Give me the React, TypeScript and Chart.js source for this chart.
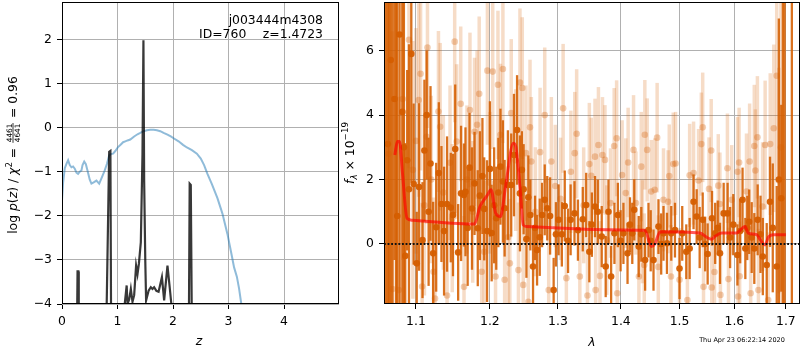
import React, { useEffect, useRef } from 'react';
import { Chart, registerables } from 'chart.js';

Chart.register(...registerables);

const FONT = "'DejaVu Sans', sans-serif";
const FS = 12.4;

// ---------- left panel: redshift fit ----------
const leftXTicks = [0, 1, 2, 3, 4];
const leftYTicks = [-4, -3, -2, -1, 0, 1, 2];

const chiZ = [0, 0.02, 0.05, 0.08, 0.11, 0.14, 0.17, 0.2, 0.23, 0.26, 0.29, 0.32, 0.35, 0.37, 0.4, 0.43, 0.46, 0.5, 0.53, 0.57, 0.62, 0.67, 0.72, 0.77, 0.81, 0.85, 0.88, 0.92, 0.96, 1.01, 1.06, 1.1, 1.14, 1.18, 1.23, 1.3, 1.36, 1.41, 1.47, 1.53, 1.59, 1.65, 1.71, 1.77, 1.83, 1.9, 1.96, 2.01, 2.1, 2.18, 2.25, 2.34, 2.43, 2.5, 2.56, 2.62, 2.7, 2.8, 2.89, 2.98, 3.05, 3.1, 3.15, 3.19, 3.23, 3.28];
const chiVal = [-1.65, -1.25, -0.92, -0.82, -0.74, -0.85, -0.9, -0.88, -0.93, -1.02, -1.05, -1.0, -0.97, -0.85, -0.77, -0.83, -0.98, -1.18, -1.27, -1.24, -1.2, -1.27, -1.12, -0.97, -0.82, -0.63, -0.6, -0.59, -0.53, -0.44, -0.38, -0.33, -0.31, -0.29, -0.27, -0.2, -0.15, -0.12, -0.08, -0.06, -0.05, -0.05, -0.06, -0.08, -0.12, -0.16, -0.2, -0.24, -0.31, -0.39, -0.45, -0.51, -0.59, -0.7, -0.85, -1.05, -1.28, -1.6, -1.95, -2.41, -2.85, -3.17, -3.38, -3.65, -4.0, -4.4];

const pzZ = [0, 0.27, 0.28, 0.295, 0.302, 0.8, 0.85, 0.872, 0.885, 1.1, 1.13, 1.165, 1.18, 1.21, 1.24, 1.27, 1.3, 1.335, 1.36, 1.385, 1.42, 1.45, 1.467, 1.48, 1.5, 1.515, 1.56, 1.6, 1.63, 1.66, 1.7, 1.74, 1.8, 1.84, 1.9, 1.94, 1.97, 2.01, 2.03, 2.285, 2.3, 2.32, 2.34, 4.99];
const pzLogP = [-4.6, -4.6, -3.26, -3.26, -4.6, -4.4, -0.55, -0.53, -4.6, -4.6, -4.0, -3.58, -4.0, -3.9, -3.66, -3.95, -3.8, -3.13, -3.32, -3.09, -2.6, -0.6, 1.98, -1.2, -3.0, -3.92, -3.7, -3.62, -3.66, -3.62, -3.7, -3.72, -3.39, -3.92, -3.13, -3.62, -4.0, -4.0, -4.6, -4.6, -1.27, -1.3, -4.6, -4.6];

// ---------- right panel: spectrum ----------
const rightXTicks = [1.1, 1.2, 1.3, 1.4, 1.5, 1.6, 1.7];
const rightYTicks = [0, 2, 4, 6];

const darkLam = [
  1.062, 1.0642, 1.066, 1.0678, 1.07, 1.0725, 1.0745, 1.076, 1.079, 1.0825,
  1.0845, 1.0862, 1.0887, 1.091, 1.094, 1.097, 1.101, 1.104, 1.1085, 1.111,
  1.114, 1.1165, 1.119, 1.1225, 1.1265, 1.13, 1.1335, 1.137, 1.141, 1.146,
  1.149, 1.152, 1.156, 1.16, 1.1639, 1.166, 1.169, 1.1716, 1.175, 1.1785,
  1.183, 1.186, 1.1895, 1.192, 1.196, 1.2, 1.2025, 1.206, 1.209, 1.212,
  1.215, 1.2185, 1.221, 1.2257, 1.2305, 1.2345, 1.239, 1.2432, 1.246, 1.2486,
  1.2527, 1.2555, 1.2585, 1.2625, 1.2655, 1.2685, 1.2725, 1.276, 1.28, 1.2838,
  1.2881, 1.2935, 1.297, 1.301, 1.306, 1.3105, 1.3156, 1.3196, 1.3256, 1.331,
  1.3386, 1.344, 1.349, 1.353, 1.358, 1.3625, 1.3688, 1.3752, 1.3797, 1.384,
  1.3894, 1.395, 1.3995, 1.4042, 1.411, 1.415, 1.4189, 1.4222, 1.4297, 1.434,
  1.4405, 1.4462, 1.45, 1.4548, 1.4633, 1.468, 1.472, 1.478, 1.4855, 1.492,
  1.5, 1.5048, 1.512, 1.518, 1.525, 1.5306, 1.536, 1.5415, 1.546, 1.5505,
  1.5585, 1.5643, 1.569, 1.5732, 1.58, 1.5873, 1.592, 1.598, 1.6058, 1.611,
  1.6155, 1.6208, 1.6245, 1.6282, 1.633, 1.638, 1.6445, 1.65, 1.6545, 1.6621,
  1.6686, 1.674, 1.6818, 1.686, 1.6908, 1.694, 1.6975, 1.712,
];
const darkFlux = [
  8.8, 3.1, -2.5, 5.71, 9.0, 4.5, 8.0, 0.87, 6.5, 4.1,
  3.0, -0.37, 2.6, 1.7, 5.9, 1.86, -0.6, 1.77, 0.12, 2.9,
  4.0, 1.0, 2.5, -0.29, 0.52, 2.2, 1.24, 0.4, 1.24, 1.13,
  0.9, 2.95, -0.26, 1.57, 1.52, 1.62, 0.5, 2.37, 1.1, 1.88,
  0.49, 1.5, 2.11, 1.09, 0.4, 2.33, 0.34, 1.2, 0.8, 1.6,
  2.4, 1.94, 1.11, 1.83, 1.83, 2.76, 3.54, 1.57, 2.3, 1.7,
  0.15, 1.45, 0.9, -0.7, 0.5, -0.19, 0.21, 0.9, 1.37, 1.11,
  0.87, -1.43, 0.3, 0.75, 0.3, 1.18, 0.1, 0.75, 0.95, 0.43,
  0.77, 1.21, -0.24, 0.6, 1.16, 1.0, 0.23, -0.7, 1.0, -1.01,
  0.33, 0.9, 0.1, 0.33, -0.29, 0.6, 0.33, 1.06, -0.08, 0.3,
  -0.5, 0.43, 0.1, -0.5, 0.54, 0.0, 0.33, 0.02, 0.33, 0.43,
  -0.76, 0.33, -0.24, -0.14, 1.31, 0.85, 0.2, 0.75, 0.0, -0.31,
  0.8, 0.33, 0.5, -0.29, 0.95, 0.95, 0.2, 0.6, -0.34, 0.4,
  1.37, -0.14, 0.5, 0.69, 0.2, -0.14, 0.75, 0.3, -0.39, -0.65,
  1.31, 0.5, -0.7, 2.0, 1.42, 8.5, -2.5, 9.0,
];
const darkErr = [
  12, 12, 12, 12, 12, 5, 10, 12, 9, 12,
  6, 3.5, 2.8, 4.5, 4, 2.5, 1.6, 2.6, 1.8, 2.2,
  2.0, 2.3, 2.4, 1.6, 2.0, 2.2, 1.8, 2.0, 2.1, 1.7,
  1.9, 2.0, 1.5, 2.1, 1.6, 2.0, 1.8, 1.7, 1.9, 1.6,
  1.8, 2.0, 1.8, 1.6, 2.2, 2.1, 1.5, 1.8, 1.6, 1.7,
  1.8, 1.9, 1.5, 1.7, 1.6, 1.9, 1.7, 1.8, 1.2, 1.4,
  1.2, 1.3, 1.1, 1.2, 1.0, 1.1, 1.2, 1.0, 1.1, 1.0,
  1.2, 1.0, 1.0, 1.1, 1.0, 1.1, 1.0, 1.1, 1.0, 0.95,
  1.0, 1.0, 0.95, 1.0, 0.95, 1.0, 0.95, 0.95, 1.0, 0.95,
  0.95, 1.0, 0.95, 0.95, 0.95, 0.85, 0.95, 0.95, 0.95, 0.85,
  0.95, 0.85, 0.95, 0.95, 0.85, 0.95, 0.85, 0.95, 0.85, 0.85,
  0.95, 0.85, 0.85, 0.95, 0.85, 0.85, 0.95, 0.85, 0.85, 0.95,
  0.85, 0.95, 0.85, 0.95, 0.95, 0.95, 0.95, 0.95, 0.95, 1.0,
  1.0, 0.95, 1.0, 1.0, 1.1, 1.1, 1.1, 1.2, 1.2, 1.3,
  1.4, 2.0, 2.5, 5, 2.9, 12, 12, 12,
];

const lightLam = [
  1.065, 1.07, 1.078, 1.083, 1.091, 1.096, 1.1, 1.1035, 1.106, 1.108,
  1.111, 1.114, 1.115, 1.12, 1.123, 1.125, 1.1295, 1.1318, 1.136, 1.141,
  1.145, 1.148, 1.1513, 1.154, 1.1595, 1.164, 1.168, 1.1722, 1.176, 1.1785,
  1.182, 1.185, 1.1885, 1.192, 1.1965, 1.2, 1.204, 1.208, 1.2114, 1.215,
  1.2185, 1.221, 1.226, 1.2285, 1.2305, 1.237, 1.241, 1.2432, 1.2466, 1.248,
  1.252, 1.2555, 1.258, 1.26, 1.266, 1.273, 1.28, 1.286, 1.29, 1.296,
  1.304, 1.308, 1.313, 1.32, 1.326, 1.329, 1.334, 1.34, 1.346, 1.349,
  1.352, 1.358, 1.359, 1.3635, 1.366, 1.37, 1.374, 1.377, 1.383, 1.389,
  1.393, 1.394, 1.402, 1.408, 1.412, 1.421, 1.425, 1.43, 1.434, 1.436,
  1.439, 1.44, 1.444, 1.451, 1.457, 1.461, 1.463, 1.472, 1.48, 1.482,
  1.485, 1.489, 1.493, 1.5, 1.514, 1.518, 1.525, 1.534, 1.539, 1.5415,
  1.543, 1.553, 1.557, 1.558, 1.563, 1.57, 1.573, 1.574, 1.587, 1.589,
  1.595, 1.606, 1.607, 1.609, 1.61, 1.623, 1.629, 1.631, 1.638, 1.64,
  1.644, 1.646, 1.654, 1.659, 1.665, 1.669, 1.676, 1.6818, 1.686, 1.69,
];
const lightFlux = [
  2.8, -1.4, -1.43, 4.5, 6.34, 2.3, 3.2, 4.47, 5.28, -1.32,
  1.2, 3.33, 6.1, 2.0, -0.86, -1.69, 4.11, 3.64, 1.6, -1.6,
  2.52, 0.8, 6.28, 3.18, 4.35, -1.33, 2.0, 4.16, 1.0, 3.48,
  3.7, 4.66, -0.86, -0.24, 5.38, 1.9, 5.35, -1.01, 4.94, 3.39,
  5.43, -1.11, 0.21, -0.6, 4.06, 2.6, -0.81, 5.01, 4.84, -1.27,
  2.82, -1.79, 3.62, 2.56, 1.0, 2.85, 4.0, -1.43, 2.56, 1.8,
  1.4, 4.21, -1.06, 2.24, 2.82, 3.42, -1.01, 1.2, -1.6, 2.48,
  2.12, 2.71, -1.43, 3.07, -0.99, 2.76, 2.61, 0.12, 1.27, 3.04,
  3.28, -1.53, 2.14, 1.58, 2.53, 2.92, 1.27, -1.01, 2.4, 0.38,
  -0.65, 3.39, 2.92, 1.63, 1.68, 3.3, -0.71, 1.37, 1.31, 2.11,
  -1.01, 2.48, 2.5, -1.11, -1.74, 2.13, 2.2, 1.97, 3.1, 3.62,
  -1.33, 1.71, 2.9, -1.35, -0.87, 1.81, 1.24, -1.58, 2.35, -1.09,
  1.37, 2.24, -1.63, 2.53, -1.0, 1.63, 2.56, -1.53, 3.04, 2.28,
  3.31, -1.43, 1.16, 3.07, -1.74, 3.1, 3.59, 5.22, 1.97, 3.0,
];
const lightErr = [
  12, 8, 6, 5, 4, 4, 3.5, 3, 3, 2.6,
  2.8, 2.7, 2.5, 2.6, 2.3, 2.4, 2.5, 2.6, 2.4, 2.3,
  2.4, 2.3, 2.5, 2.4, 2.4, 2.2, 2.3, 2.4, 2.2, 2.3,
  2.3, 2.4, 2.1, 2.2, 2.3, 2.2, 2.4, 2.2, 2.3, 2.2,
  2.3, 2.1, 2.2, 2.0, 2.3, 2.2, 2.1, 2.3, 2.2, 2.0,
  2.1, 2.0, 2.1, 2.0, 2.0, 2.0, 2.1, 1.9, 2.0, 1.9,
  1.9, 2.0, 1.9, 1.9, 1.9, 2.0, 1.8, 1.8, 1.8, 1.9,
  1.8, 1.8, 1.8, 1.8, 1.7, 1.8, 1.7, 1.7, 1.7, 1.8,
  1.8, 1.7, 1.7, 1.7, 1.7, 1.7, 1.6, 1.6, 1.7, 1.6,
  1.6, 1.7, 1.6, 1.6, 1.6, 1.7, 1.6, 1.6, 1.6, 1.6,
  1.6, 1.6, 1.6, 1.6, 1.6, 1.6, 1.6, 1.6, 1.6, 1.7,
  1.6, 1.6, 1.6, 1.6, 1.6, 1.6, 1.6, 1.6, 1.7, 1.6,
  1.7, 1.7, 1.7, 1.7, 1.7, 1.8, 1.8, 1.8, 1.9, 1.9,
  1.9, 1.9, 2.0, 2.0, 2.1, 2.2, 2.6, 3.2, 3.5, 6,
];

const modelLam = [1.073, 1.0762, 1.079, 1.0827, 1.0885, 1.0949, 1.1784, 1.186, 1.196, 1.2016, 1.2083, 1.215, 1.2223, 1.2336, 1.237, 1.2432, 1.2481, 1.253, 1.4319, 1.44, 1.4514, 1.457, 1.4662, 1.5366, 1.5487, 1.5578, 1.5638, 1.5764, 1.6039, 1.6202, 1.6263, 1.6426, 1.65, 1.6589, 1.6654, 1.6753, 1.7];
const modelFlux = [2.76, 3.18, 3.18, 2.19, 0.8, 0.74, 0.62, 1.16, 1.5, 1.68, 0.95, 0.85, 1.78, 3.13, 3.03, 1.78, 0.59, 0.54, 0.43, 0.43, -0.08, 0.0, 0.38, 0.34, 0.21, 0.15, 0.23, 0.34, 0.34, 0.54, 0.34, 0.29, 0.12, -0.03, 0.21, 0.29, 0.29];

const X_MIN_R = 1.0594;
const X_MAX_R = 1.7285;

// ---------- helpers ----------
type Seg = { t?: string; size: number; italic?: boolean; dy?: number; num?: string; den?: string };

const fontOf = (s: Seg) => `${s.italic ? 'italic ' : ''}${s.size}px ${FONT}`;

function drawRotated(ctx: CanvasRenderingContext2D, segs: Seg[], bx: number, cy: number) {
  ctx.save();
  const widths = segs.map((s) => {
    ctx.font = fontOf(s);
    if (s.num !== undefined) {
      return Math.max(ctx.measureText(s.num).width, ctx.measureText(s.den || '').width) + 3;
    }
    return ctx.measureText(s.t || '').width;
  });
  const total = widths.reduce((a, b) => a + b, 0);
  ctx.translate(bx, cy);
  ctx.rotate(-Math.PI / 2);
  ctx.fillStyle = '#000';
  ctx.textBaseline = 'alphabetic';
  let x = -total / 2;
  segs.forEach((s, i) => {
    ctx.font = fontOf(s);
    if (s.num !== undefined) {
      const w = widths[i];
      ctx.textAlign = 'center';
      ctx.fillText(s.num, x + w / 2, -4.9);
      ctx.fillText(s.den || '', x + w / 2, 3.0);
      ctx.fillRect(x + 1, -3.9, w - 2, 0.8);
      ctx.textAlign = 'left';
    } else {
      ctx.textAlign = 'left';
      ctx.fillText(s.t || '', x, s.dy || 0);
    }
    x += widths[i];
  });
  ctx.restore();
}

const errorBarPlugin = {
  id: 'errbars',
  beforeDatasetDraw(chart: any, args: any) {
    const ds: any = chart.data.datasets[args.index];
    if (!ds.errs) return;
    const { ctx, chartArea: a } = chart;
    const xs = chart.scales.x;
    const ys = chart.scales.y;
    ctx.save();
    ctx.beginPath();
    ctx.rect(a.left, a.top, a.right - a.left, a.bottom - a.top);
    ctx.clip();
    ctx.strokeStyle = ds.errColor;
    ctx.lineWidth = ds.errWidth;
    ctx.lineCap = 'butt';
    ds.data.forEach((p: any, i: number) => {
      const e = ds.errs[i];
      const px = xs.getPixelForValue(p.x);
      ctx.beginPath();
      ctx.moveTo(px, ys.getPixelForValue(p.y - e));
      ctx.lineTo(px, ys.getPixelForValue(p.y + e));
      ctx.stroke();
    });
    ctx.restore();
  },
};

function framePlugin(drawText: (ctx: CanvasRenderingContext2D, chart: any) => void) {
  return {
    id: 'frame',
    afterDraw(chart: any) {
      const { ctx, chartArea: a } = chart;
      ctx.save();
      ctx.strokeStyle = '#000';
      ctx.lineWidth = 1;
      const x0 = Math.round(a.left) + 0.5;
      const y0 = Math.round(a.top) + 0.5;
      const x1 = Math.round(a.right) - 0.5;
      const y1 = Math.round(a.bottom) - 0.5;
      ctx.strokeRect(x0, y0, x1 - x0, y1 - y0);
      ctx.restore();
      drawText(ctx, chart);
    },
  };
}

const gridOpts = { color: '#b0b0b0', lineWidth: 1, tickColor: '#000', tickLength: 5, tickWidth: 1 };
const tickFont = { family: FONT, size: FS };
const minus = (v: any) => String(v).replace('-', '\u2212');

const zeroPad = (s: any) => {
  s.paddingTop = 0;
  s.paddingBottom = 0;
  s.paddingLeft = 0;
  s.paddingRight = 0;
};

function axis(extra: any) {
  return {
    grid: gridOpts,
    border: { display: false },
    ...extra,
    ticks: { font: tickFont, color: '#000', padding: 5, maxRotation: 0, autoSkip: false, ...(extra.ticks || {}) },
  };
}

function makeLeft(canvas: HTMLCanvasElement) {
  const drawText = (ctx: CanvasRenderingContext2D) => {
    ctx.save();
    ctx.fillStyle = '#000';
    ctx.font = `${FS}px ${FONT}`;
    ctx.textAlign = 'right';
    ctx.textBaseline = 'alphabetic';
    ctx.fillText('j003444m4308', 323, 24);
    ctx.fillText('z=1.4723', 323, 38.3);
    const w = ctx.measureText('z=1.4723').width;
    ctx.fillText('ID=760', 323 - w - 16.5, 38.3);
    ctx.textAlign = 'center';
    ctx.font = `italic ${FS}px ${FONT}`;
    ctx.fillText('z', 199, 345);
    ctx.restore();
    drawRotated(
      ctx,
      [
        { t: 'log ', size: FS },
        { t: 'p', size: FS, italic: true },
        { t: '(', size: FS },
        { t: 'z', size: FS, italic: true },
        { t: ') / ', size: FS },
        { t: 'χ', size: FS, italic: true },
        { t: '2', size: 8.7, dy: -5 },
        { t: ' = ', size: FS },
        { num: '4461', den: '4641', size: 7.4 },
        { t: ' = 0.96', size: FS },
      ],
      16.5,
      155
    );
  };
  return new Chart(canvas, {
    type: 'scatter',
    data: {
      datasets: [
        {
          data: chiZ.map((z, i) => ({ x: z, y: chiVal[i] })),
          showLine: true,
          borderColor: 'rgba(31,119,180,0.5)',
          borderWidth: 2,
          pointRadius: 0,
          order: 2,
          clip: 0,
        } as any,
        {
          data: pzZ.map((z, i) => ({ x: z, y: pzLogP[i] })),
          showLine: true,
          borderColor: 'rgba(0,0,0,0.78)',
          borderWidth: 2.2,
          pointRadius: 0,
          order: 1,
          clip: 0,
        } as any,
      ],
    },
    options: {
      responsive: false,
      animation: false,
      events: [],
      devicePixelRatio: 1,
      layout: { autoPadding: false, padding: { left: 0, top: 2, right: 1, bottom: 0 } },
      plugins: { legend: { display: false }, tooltip: { enabled: false } },
      scales: {
        x: axis({
          type: 'linear',
          min: 0,
          max: 4.99,
          afterBuildTicks: (s: any) => {
            s.ticks = leftXTicks.map((v) => ({ value: v }));
          },
          afterFit: (s: any) => {
            s.height = 46;
            zeroPad(s);
          },
          ticks: { callback: minus },
        }),
        y: axis({
          type: 'linear',
          min: -4,
          max: 2.85,
          afterBuildTicks: (s: any) => {
            s.ticks = leftYTicks.map((v) => ({ value: v }));
          },
          afterFit: (s: any) => {
            s.width = 62;
            zeroPad(s);
          },
          ticks: { callback: minus },
        }),
      },
    } as any,
    plugins: [framePlugin(drawText)],
  });
}

function makeRight(canvas: HTMLCanvasElement) {
  const drawText = (ctx: CanvasRenderingContext2D) => {
    ctx.save();
    ctx.fillStyle = '#000';
    ctx.textAlign = 'center';
    ctx.textBaseline = 'alphabetic';
    ctx.font = `italic ${FS}px ${FONT}`;
    ctx.fillText('λ', 252, 346);
    ctx.font = `6.5px ${FONT}`;
    ctx.fillText('Thu Apr 23 06:22:14 2020', 402, 341.5);
    ctx.restore();
    drawRotated(
      ctx,
      [
        { t: 'f', size: FS, italic: true },
        { t: 'λ', size: 8.7, italic: true, dy: 3 },
        { t: ' × 10', size: FS },
        { t: '\u221219', size: 8.7, dy: -6 },
      ],
      14,
      153
    );
  };
  return new Chart(canvas, {
    type: 'scatter',
    data: {
      datasets: [
        {
          data: lightLam.map((l, i) => ({ x: l, y: lightFlux[i] })),
          errs: lightErr,
          errColor: 'rgba(213,94,0,0.22)',
          errWidth: 3.5,
          pointRadius: 3.3,
          pointBackgroundColor: 'rgba(213,94,0,0.3)',
          pointBorderWidth: 0,
          order: 4,
          clip: 0,
        } as any,
        {
          data: darkLam.map((l, i) => ({ x: l, y: darkFlux[i] })),
          errs: darkErr,
          errColor: 'rgba(213,94,0,0.88)',
          errWidth: 2.3,
          pointRadius: 3.3,
          pointBackgroundColor: 'rgba(213,94,0,0.95)',
          pointBorderWidth: 0,
          order: 3,
          clip: 0,
        } as any,
        {
          data: modelLam.map((l, i) => ({ x: l, y: modelFlux[i] })),
          showLine: true,
          borderColor: 'rgba(255,0,0,0.65)',
          borderWidth: 3,
          pointRadius: 0,
          cubicInterpolationMode: 'monotone',
          order: 2,
          clip: 0,
        } as any,
        {
          data: [
            { x: X_MIN_R, y: 0 },
            { x: X_MAX_R, y: 0 },
          ],
          showLine: true,
          borderColor: '#111',
          borderWidth: 1.8,
          borderDash: [1.8, 1.8],
          pointRadius: 0,
          order: 1,
          clip: 0,
        } as any,
      ],
    },
    options: {
      responsive: false,
      animation: false,
      events: [],
      devicePixelRatio: 1,
      layout: { autoPadding: false, padding: { left: 0, top: 2, right: 0, bottom: 0 } },
      plugins: { legend: { display: false }, tooltip: { enabled: false } },
      scales: {
        x: axis({
          type: 'logarithmic',
          min: X_MIN_R,
          max: X_MAX_R,
          afterBuildTicks: (s: any) => {
            s.ticks = rightXTicks.map((v) => ({ value: v }));
          },
          afterFit: (s: any) => {
            s.height = 46;
            zeroPad(s);
          },
          ticks: { callback: (v: any) => Number(v).toFixed(1) },
        }),
        y: axis({
          type: 'linear',
          min: -1.862,
          max: 7.51,
          afterBuildTicks: (s: any) => {
            s.ticks = rightYTicks.map((v) => ({ value: v }));
          },
          afterFit: (s: any) => {
            s.width = 44;
            zeroPad(s);
          },
          ticks: { callback: minus },
        }),
      },
    } as any,
    plugins: [errorBarPlugin, framePlugin(drawText)],
  });
}

export default function App() {
  const leftRef = useRef<HTMLCanvasElement>(null);
  const rightRef = useRef<HTMLCanvasElement>(null);
  useEffect(() => {
    const c1 = makeLeft(leftRef.current as HTMLCanvasElement);
    const c2 = makeRight(rightRef.current as HTMLCanvasElement);
    return () => {
      c1.destroy();
      c2.destroy();
    };
  }, []);
  return (
    <div style={{ position: 'absolute', left: 0, top: 0, width: 800, height: 350, background: '#fff' }}>
      <canvas
        ref={leftRef}
        width={340}
        height={350}
        style={{ position: 'absolute', left: 0, top: 0, width: 340, height: 350 }}
      />
      <canvas
        ref={rightRef}
        width={460}
        height={350}
        style={{ position: 'absolute', left: 340, top: 0, width: 460, height: 350 }}
      />
    </div>
  );
}
